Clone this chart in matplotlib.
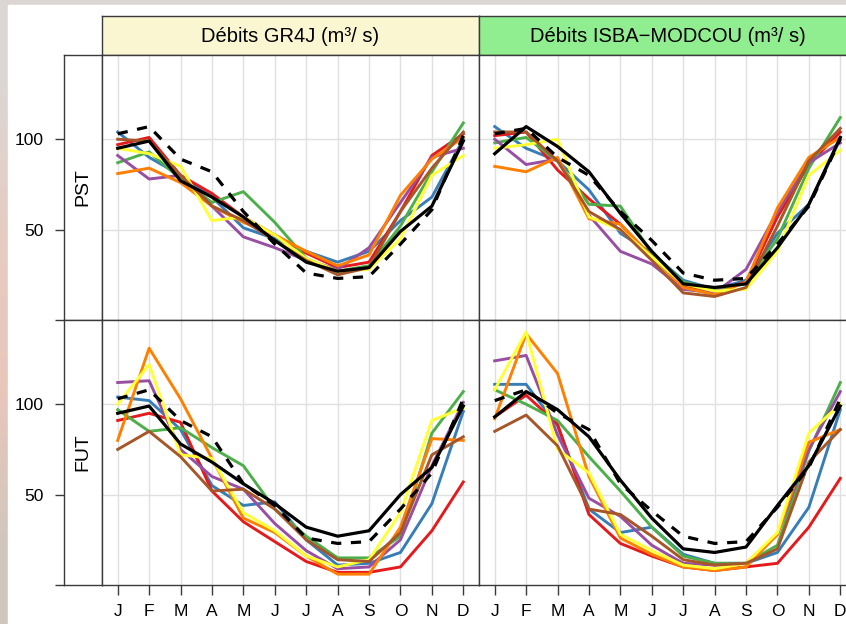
import numpy as np
import matplotlib.pyplot as plt
from matplotlib.patches import Rectangle

plt.rcParams['font.family'] = ['Liberation Sans', 'DejaVu Sans']

# ------------------------------------------------------------------
# Données : débits mensuels moyens en m3/s
# ------------------------------------------------------------------
mois = ['J', 'F', 'M', 'A', 'M', 'J', 'J', 'A', 'S', 'O', 'N', 'D']
titres_modeles = ['Débits GR4J (m³/ s)', 'Débits ISBA\u2212MODCOU (m³/ s)']
periodes = ['PST', 'FUT']
yticks = [0, 50, 100]
ytick_labels = ['', '50', '100']

# ordre des membres : bleu, rouge, vert, violet, orange, jaune, marron
couleurs = ['#377EB8', '#E41A1C', '#4DAF4A', '#984EA3', '#FF7F00', '#FFFF33', '#A65628']

gr4j_pst_membres = [
    [104, 90, 80, 68, 51, 45, 38, 32, 38, 55, 68, 100],
    [97, 101, 80, 70, 57, 47, 37, 29, 32, 60, 91, 103],
    [87, 93, 78, 65, 71, 54, 34, 27, 30, 52, 82, 109],
    [91, 78, 80, 63, 46, 40, 33, 28, 40, 65, 90, 95],
    [81, 84, 76, 63, 54, 47, 38, 30, 36, 69, 89, 101],
    [95, 92, 85, 55, 57, 47, 34, 27, 28, 45, 80, 91],
    [100, 99, 80, 63, 55, 44, 33, 25, 29, 60, 84, 104],
]
gr4j_pst_noir = [95, 99, 77, 68, 57, 44, 32, 27, 29, 49, 63, 99]
gr4j_pst_tirets = [103, 107, 89, 82, 60, 42, 26, 23, 24, 42, 61, 102]

isba_pst_membres = [
    [107, 95, 88, 72, 48, 37, 22, 17, 22, 48, 64, 100],
    [102, 104, 83, 67, 53, 35, 19, 16, 21, 57, 86, 104],
    [98, 101, 88, 64, 63, 37, 21, 17, 20, 45, 84, 112],
    [100, 86, 89, 58, 38, 31, 17, 15, 28, 60, 87, 98],
    [85, 82, 90, 56, 53, 35, 18, 14, 21, 62, 90, 101],
    [95, 97, 100, 57, 50, 35, 20, 16, 17, 38, 80, 94],
    [104, 104, 88, 60, 50, 33, 15, 13, 18, 52, 88, 106],
]
isba_pst_noir = [92, 107, 96, 82, 59, 38, 20, 18, 20, 40, 64, 101]
isba_pst_tirets = [103, 106, 90, 80, 60, 44, 26, 22, 23, 42, 63, 100]

gr4j_fut_membres = [
    [104, 102, 86, 55, 44, 46, 25, 11, 12, 18, 45, 96],
    [91, 95, 90, 52, 35, 24, 13, 7, 7, 10, 30, 57],
    [97, 85, 87, 76, 66, 42, 27, 15, 15, 27, 84, 107],
    [112, 113, 75, 60, 53, 34, 19, 9, 10, 25, 66, 101],
    [80, 131, 103, 70, 37, 29, 16, 6, 6, 32, 81, 80],
    [100, 122, 72, 70, 40, 30, 16, 10, 14, 40, 91, 98],
    [75, 85, 71, 52, 53, 42, 25, 14, 13, 29, 72, 82],
]
gr4j_fut_noir = [95, 99, 78, 68, 56, 45, 32, 27, 30, 50, 65, 99]
gr4j_fut_tirets = [103, 108, 91, 82, 56, 44, 26, 23, 24, 42, 62, 103]

isba_fut_membres = [
    [111, 111, 88, 42, 29, 32, 17, 12, 12, 18, 43, 97],
    [93, 105, 89, 39, 23, 16, 10, 8, 10, 12, 32, 59],
    [108, 100, 91, 71, 52, 32, 16, 12, 12, 22, 74, 112],
    [124, 127, 83, 48, 38, 22, 12, 11, 12, 28, 75, 107],
    [92, 139, 117, 60, 26, 17, 10, 8, 10, 28, 79, 86],
    [108, 140, 75, 62, 28, 19, 11, 9, 12, 29, 84, 100],
    [85, 94, 77, 42, 39, 27, 14, 11, 12, 20, 68, 86],
]
isba_fut_noir = [93, 107, 97, 82, 58, 37, 20, 18, 21, 44, 66, 99]
isba_fut_tirets = [102, 108, 95, 86, 56, 41, 27, 23, 24, 43, 65, 103]

panneaux = [
    [(gr4j_pst_membres, gr4j_pst_noir, gr4j_pst_tirets),
     (isba_pst_membres, isba_pst_noir, isba_pst_tirets)],
    [(gr4j_fut_membres, gr4j_fut_noir, gr4j_fut_tirets),
     (isba_fut_membres, isba_fut_noir, isba_fut_tirets)],
]

# ------------------------------------------------------------------
# Mise en page (en pixels, comme la figure de référence)
# ------------------------------------------------------------------
W, H = 846, 624
fig = plt.figure(figsize=(W / 100, H / 100), dpi=100)


def px(x0, y0, x1, y1):
    return [x0 / W, 1 - y1 / H, (x1 - x0) / W, (y1 - y0) / H]


# fond flou autour de la figure
fond = fig.add_axes([0, 0, 1, 1], zorder=-10)
degrade = np.array([[[0.86, 0.84, 0.83]], [[0.90, 0.80, 0.76]],
                    [[0.91, 0.78, 0.73]], [[0.82, 0.78, 0.74]]])
fond.imshow(degrade, aspect='auto', interpolation='bilinear', extent=[0, 1, 0, 1])
fond.add_patch(Rectangle((8 / W, 0), 1, 1 - 5 / H, color='white'))
fond.set_xlim(0, 1)
fond.set_ylim(0, 1)
fond.axis('off')

x = np.arange(1, 13)
ylim = (0, 146.6)
col_x = [102, 479]
col_w = 377
row_y = [55, 320]
row_h = 265
trait = '#3a3a3a'

# bandeaux de titre
strip_couleurs = ['#FAF6D2', '#90EE90']
for j in range(2):
    sa = fig.add_axes(px(col_x[j], 16, col_x[j] + col_w, 55))
    sa.set_facecolor(strip_couleurs[j])
    sa.set_xticks([])
    sa.set_yticks([])
    for s in sa.spines.values():
        s.set_color(trait)
        s.set_linewidth(1.0)
    sa.text(0.5, 0.47, titres_modeles[j], ha='center', va='center',
            fontsize=14.5, transform=sa.transAxes)

for i in range(2):
    # colonne des étiquettes de ligne + axe des y
    la = fig.add_axes(px(64, row_y[i], 102, row_y[i] + row_h))
    la.set_xlim(0, 1)
    la.set_ylim(*ylim)
    la.set_xticks([])
    la.set_yticks(yticks)
    la.set_yticklabels(ytick_labels)
    la.tick_params(axis='y', length=6.5, width=1.0, color=trait, pad=8, labelsize=12.5)
    for s in la.spines.values():
        s.set_color(trait)
        s.set_linewidth(1.0)
    la.text(0.5, 0.5, periodes[i], rotation=90, ha='center', va='center',
            fontsize=14, transform=la.transAxes)

    for j in range(2):
        ax = fig.add_axes(px(col_x[j], row_y[i], col_x[j] + col_w, row_y[i] + row_h))
        ax.set_xlim(0.5, 12.5)
        ax.set_ylim(*ylim)
        ax.set_xticks(x)
        ax.set_yticks([50, 100])
        ax.grid(True, color='#e0e0e0', linewidth=1.0)
        ax.set_axisbelow(True)
        for s in ax.spines.values():
            s.set_color(trait)
            s.set_linewidth(1.0)
        ax.tick_params(axis='y', length=0, labelleft=False)
        if i == 1:
            ax.set_xticklabels(mois)
            ax.tick_params(axis='x', length=7, width=1.0, color=trait, pad=7,
                           labelsize=12.5)
        else:
            ax.tick_params(axis='x', length=0, labelbottom=False)

        membres, noir, tirets = panneaux[i][j]
        for serie, c in zip(membres, couleurs):
            ax.plot(x, serie, color=c, lw=2.1)
        ax.plot(x, noir, color='black', lw=2.3)
        ax.plot(x, tirets, color='black', lw=2.3, dashes=(3.2, 3.0))

fig.savefig('out.png', dpi=100)
